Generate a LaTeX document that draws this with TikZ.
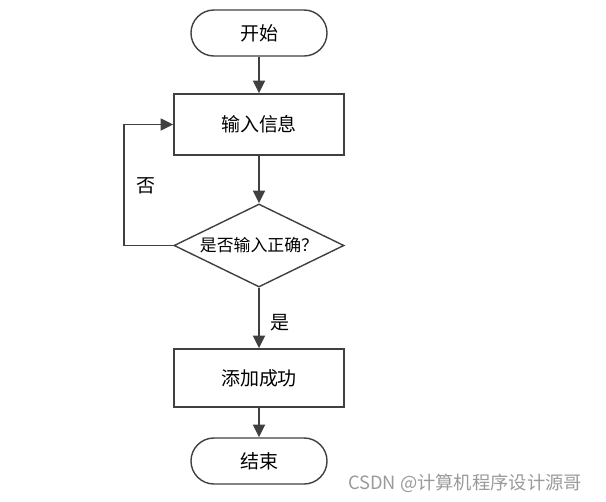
\documentclass[tikz,border=0pt]{standalone}
\usepackage{fontspec}
\usepackage{tikz}
\usetikzlibrary{shapes.geometric,arrows.meta}
\newfontfamily\cjk{Noto Sans CJK SC}
\definecolor{linegray}{HTML}{404040}
\definecolor{markgray}{HTML}{9A9A9A}
\tikzset{%
    terminal/.style={draw=linegray, line width=1pt, rounded corners=0.575cm,
        minimum width=3.4cm, minimum height=1.15cm, font=\cjk\fontsize{13.5}{16}\selectfont},
    process/.style={draw=linegray, line width=1pt, minimum width=4.25cm,
        font=\cjk\fontsize{13.5}{16}\selectfont},
    decision/.style={draw=linegray, line width=1pt, diamond, aspect=2.05, inner sep=0pt,
        minimum width=4.25cm, minimum height=2.075cm, font=\cjk\fontsize{12}{14}\selectfont},
    flow/.style={draw=linegray, line width=1.6pt, -{Triangle[length=9pt,width=8.5pt]}},
    back/.style={draw=linegray, line width=1.1pt, -{Triangle[length=9pt,width=8.5pt]}}
}
\begin{document}
\begin{tikzpicture}[x=0.025cm, y=-0.025cm]
    \useasboundingbox (0,0) rectangle (606,501);
    \node[terminal] (start) at (259,33) {开始};
    \node[process, minimum height=1.525cm] (input) at (259,124.5) {输入信息};
    \node[decision] (check) at (259,245.5) {是否输入正确？};
    \node[process, minimum height=1.45cm] (done) at (259,378) {添加成功};
    \node[terminal] (stop) at (259,461) {结束};
    \coordinate (loop) at (124,245.5);
    % arrows
    \draw[flow] (start) -- (input);
    \draw[flow] (input) -- (check);
    \draw[flow] (check) -- (done);
    \draw[flow] (done) -- (stop);
    \draw[back] (check.west) -- (loop) |- (input.west);
	\node[font=\cjk\fontsize{13.5}{16}\selectfont] (no) at (146,186) {否};
	\node[font=\cjk\fontsize{13.5}{16}\selectfont] (yes) at (280,323) {是};
	\node[font=\cjk\fontsize{13}{15}\selectfont, text=markgray] (mark) at (465,483) {CSDN @计算机程序设计源哥};
\end{tikzpicture}
\end{document}
